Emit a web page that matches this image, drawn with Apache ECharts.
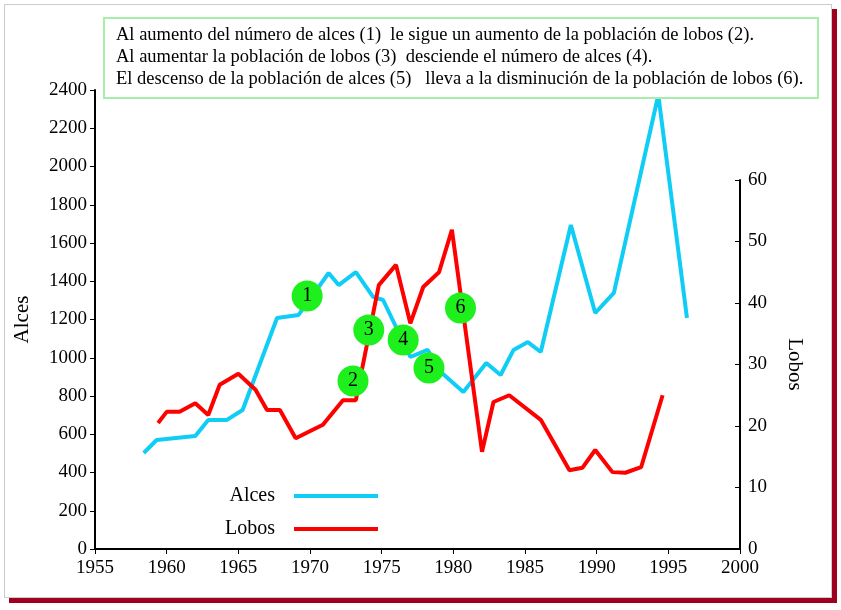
<!DOCTYPE html>
<html><head><meta charset="utf-8">
<script src="https://cdn.jsdelivr.net/npm/echarts@6/dist/echarts.min.js"></script>
<style>
html,body{margin:0;padding:0;background:#fff;}
#frame{position:absolute;left:4px;top:4px;width:826px;height:592px;border:1px solid #ccc;box-shadow:5px 5px 0 #a00020;}
#c{position:absolute;left:0;top:0;width:841px;height:610px;}
</style></head><body>
<div id="frame"></div>
<div id="c"></div>
<script>
const alcesYears = [1958.4,1959.3,1962.0,1962.9,1964.2,1965.3,1967.7,1969.2,1969.8,1971.3,1972.0,1973.2,1974.4,1975.1,1977.0,1978.2,1979.2,1980.7,1982.3,1983.3,1984.2,1985.2,1986.1,1988.2,1989.9,1991.2,1994.3,1996.3];
const alcesValues = [502,570,591,675,675,727,1208,1224,1286,1443,1380,1448,1318,1302,1004,1041,920,821,973,910,1041,1082,1030,1694,1234,1339,2374,1208];
const lobosYears = [1959.4,1960.0,1960.9,1962.0,1962.9,1963.7,1965.0,1966.2,1967.0,1967.9,1969.0,1970.9,1972.3,1973.2,1974.8,1976.0,1977.0,1977.9,1979.0,1979.9,1982.0,1982.8,1983.9,1986.1,1988.1,1989.0,1989.9,1991.1,1992.0,1993.1,1994.6];
const lobosValues = [20.5,22.3,22.3,23.7,21.8,26.7,28.5,25.9,22.6,22.6,18.0,20.2,24.2,24.2,42.9,46.2,36.7,42.6,45.0,51.9,15.8,23.9,25.0,21.0,12.8,13.2,16.1,12.5,12.4,13.3,25.0];
const markerLabels = ['1','2','3','4','5','6'];
const markerYears = [1969.8,1973.0,1974.1,1976.5,1978.3,1980.5];
const markerValues = [1323,878,1145,1093,946,1260];
const noteLines = [
 'Al aumento del número de alces (1)  le sigue un aumento de la población de lobos (2).',
 'Al aumentar la población de lobos (3)  desciende el número de alces (4).',
 'El descenso de la población de alces (5)   lleva a la disminución de la población de lobos (6).'
];
const F = 'Liberation Serif';
const plain = v => String(v);
const chart = echarts.init(document.getElementById('c'));
chart.setOption({
  animation:false,
  textStyle:{fontFamily:F},
  grid:[{left:95,right:101,top:90,bottom:61},{left:95,right:101,top:180,bottom:61}],
  legend:{orient:'vertical',left:220,top:481,align:'right',itemWidth:84,itemHeight:4,itemGap:13,
    icon:'rect',textStyle:{fontFamily:F,fontSize:20,color:'#000',padding:[0,14,0,0]},data:['Alces','Lobos']},
  xAxis:[{type:'value',gridIndex:0,min:1955,max:2000,interval:5,
    axisLine:{lineStyle:{color:'#000',width:2}},axisTick:{show:true,lineStyle:{color:'#000'}},
    axisLabel:{color:'#000',fontSize:19,fontFamily:F,margin:10,formatter:plain},splitLine:{show:false}},
    {type:'value',gridIndex:1,min:1955,max:2000,show:false}],
  yAxis:[{type:'value',gridIndex:0,min:0,max:2400,interval:200,name:'Alces',nameLocation:'middle',nameGap:62,
    nameTextStyle:{fontFamily:F,fontSize:21,color:'#000'},
    axisLine:{show:true,lineStyle:{color:'#000',width:2}},axisTick:{show:true,lineStyle:{color:'#000'}},
    axisLabel:{color:'#000',fontSize:19,fontFamily:F,formatter:plain},splitLine:{show:false}},
    {type:'value',gridIndex:1,position:'right',min:0,max:60,interval:10,name:'Lobos',nameLocation:'middle',nameGap:44,nameRotate:-90,
    nameTextStyle:{fontFamily:F,fontSize:21,color:'#000'},
    axisLine:{show:true,lineStyle:{color:'#000',width:2}},axisTick:{show:true,inside:true,lineStyle:{color:'#000'}},
    axisLabel:{color:'#000',fontSize:19,fontFamily:F,formatter:plain},splitLine:{show:false}}],
  series:[
    {name:'Alces',type:'line',xAxisIndex:0,yAxisIndex:0,symbol:'none',color:'#10cdf5',
      lineStyle:{width:4,color:'#10cdf5'},data:alcesYears.map((y,i)=>[y,alcesValues[i]])},
    {name:'Lobos',type:'line',xAxisIndex:1,yAxisIndex:1,symbol:'none',color:'#ff0000',
      lineStyle:{width:4,color:'#ff0000'},data:lobosYears.map((y,i)=>[y,lobosValues[i]])},
    {type:'scatter',xAxisIndex:0,yAxisIndex:0,symbolSize:31,z:5,
      itemStyle:{color:'#1ef01e',opacity:1},
      label:{show:true,position:'inside',color:'#000',fontFamily:F,fontSize:20,formatter:p=>markerLabels[p.dataIndex]},
      data:markerYears.map((y,i)=>[y,markerValues[i]])}
  ],
  graphic:[
    {type:'rect',left:103,top:17,shape:{width:714,height:80},style:{fill:'#fff',stroke:'#a8eea8',lineWidth:2},z:10},
    {type:'text',left:116,top:24,z:11,style:{text:noteLines.join('\n'),font:'18.5px "Liberation Serif"',fill:'#000',lineHeight:22}}
  ]
});
</script></body></html>
